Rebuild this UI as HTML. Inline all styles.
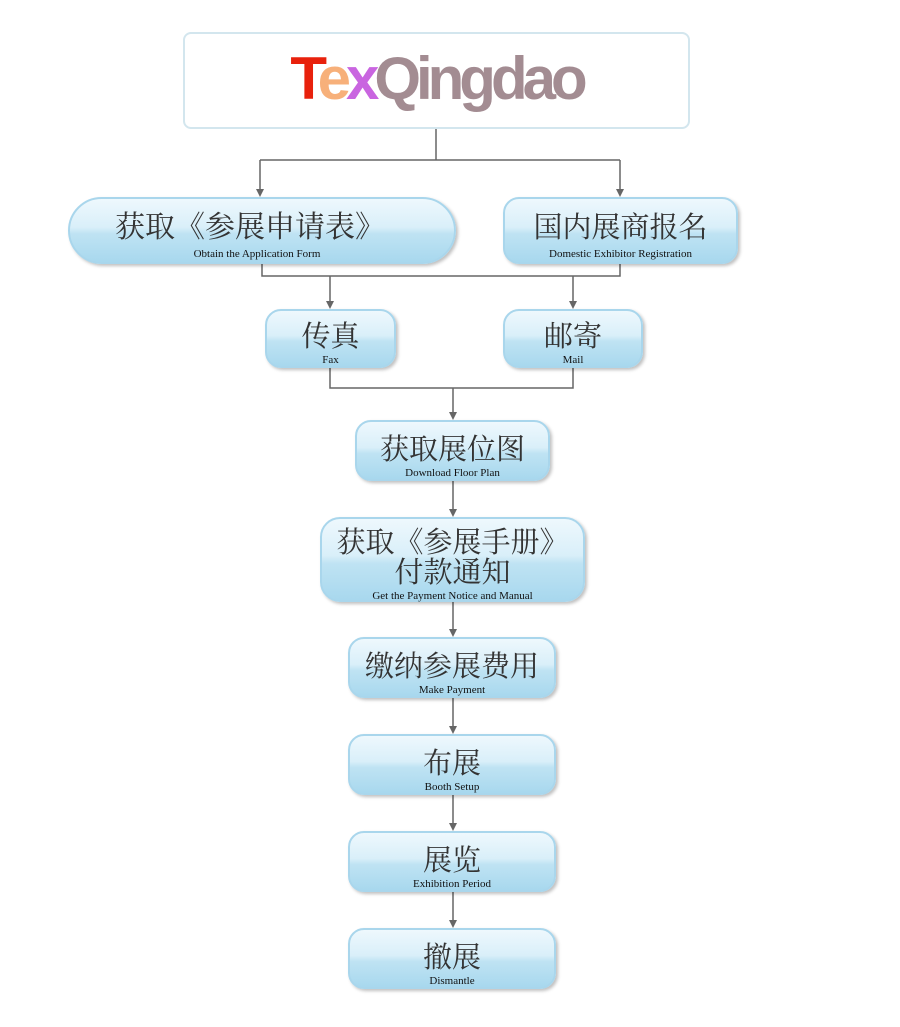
<!DOCTYPE html>
<html><head><meta charset="utf-8"><style>
html,body{margin:0;padding:0;background:#fff;}
body{width:900px;height:1027px;position:relative;overflow:hidden;}
.b{position:absolute;box-sizing:border-box;border:2px solid #a9d6ec;border-radius:16px;
background:linear-gradient(#eef8fd 0%,#d9eff9 45%,#bfe3f3 55%,#a8d8ee 100%);
box-shadow:2px 2px 3px rgba(0,0,0,0.25);text-align:center;color:#333;}
.cn{font-family:"Liberation Serif","Noto Serif CJK SC",serif;font-size:29px;line-height:30px;}
.en{font-family:"Liberation Serif",serif;font-size:11px;line-height:12px;color:#111;}
</style></head><body>
<div style="position:absolute;left:183px;top:32px;width:507px;height:97px;box-sizing:border-box;border:2px solid #d3e6ee;border-radius:8px;background:#fff;"></div>
<div style="position:absolute;left:183px;top:44px;width:507px;text-align:center;font-family:'Liberation Sans',sans-serif;font-weight:bold;font-size:60px;letter-spacing:-5px;line-height:70px;">
<span style="color:#e8210c">T</span><span style="color:#f7b07a">e</span><span style="color:#c965e0">x</span><span style="color:#a38c92">Qingdao</span></div>
<svg width="900" height="1027" style="position:absolute;left:0;top:0">
<g fill="none" stroke="#666" stroke-width="1.5">
<path d="M436,129V160M260,160H620"/>
<path d="M260,160V190M620,160V190"/>
<path d="M262,264V276H620V264"/>
<path d="M330,276V302M573,276V302"/>
<path d="M330,368V388H573V368"/>
<path d="M453,388V413M453,481V510M453,602V630M453,698V727M453,795V824M453,892V921"/>
</g>
<g fill="#666">
<path d="M256,189H264L260,197z"/><path d="M616,189H624L620,197z"/>
<path d="M326,301H334L330,309z"/><path d="M569,301H577L573,309z"/>
<path d="M449,412H457L453,420z"/><path d="M449,509H457L453,517z"/>
<path d="M449,629H457L453,637z"/><path d="M449,726H457L453,734z"/>
<path d="M449,823H457L453,831z"/><path d="M449,920H457L453,928z"/>
</g>
</svg>
<div class="b" style="left:68px;top:197px;width:388px;height:67px;border-radius:34px;"><div class="cn" style="margin-top:14px;font-size:30px;margin-left:-24px">获取《参展申请表》</div><div class="en" style="margin-top:5px;margin-left:-10px">Obtain the Application Form</div></div>
<div class="b" style="left:503px;top:197px;width:235px;height:67px;"><div class="cn" style="margin-top:14px">国内展商报名</div><div class="en" style="margin-top:5px">Domestic Exhibitor Registration</div></div>
<div class="b" style="left:265px;top:309px;width:131px;height:59px;"><div class="cn" style="margin-top:11px">传真</div><div class="en" style="margin-top:2px">Fax</div></div>
<div class="b" style="left:503px;top:309px;width:140px;height:59px;"><div class="cn" style="margin-top:11px">邮寄</div><div class="en" style="margin-top:2px">Mail</div></div>
<div class="b" style="left:355px;top:420px;width:195px;height:61px;"><div class="cn" style="margin-top:13px">获取展位图</div><div class="en" style="margin-top:2px">Download Floor Plan</div></div>
<div class="b" style="left:320px;top:517px;width:265px;height:85px;border-radius:20px;"><div class="cn" style="margin-top:9px">获取《参展手册》</div><div class="cn" style="margin-top:0px">付款通知</div><div class="en" style="margin-top:2px">Get the Payment Notice and Manual</div></div>
<div class="b" style="left:348px;top:637px;width:208px;height:61px;"><div class="cn" style="margin-top:13px">缴纳参展费用</div><div class="en" style="margin-top:2px">Make Payment</div></div>
<div class="b" style="left:348px;top:734px;width:208px;height:61px;"><div class="cn" style="margin-top:13px">布展</div><div class="en" style="margin-top:2px">Booth Setup</div></div>
<div class="b" style="left:348px;top:831px;width:208px;height:61px;"><div class="cn" style="margin-top:13px">展览</div><div class="en" style="margin-top:2px">Exhibition Period</div></div>
<div class="b" style="left:348px;top:928px;width:208px;height:61px;"><div class="cn" style="margin-top:13px">撤展</div><div class="en" style="margin-top:2px">Dismantle</div></div>
</body></html>
